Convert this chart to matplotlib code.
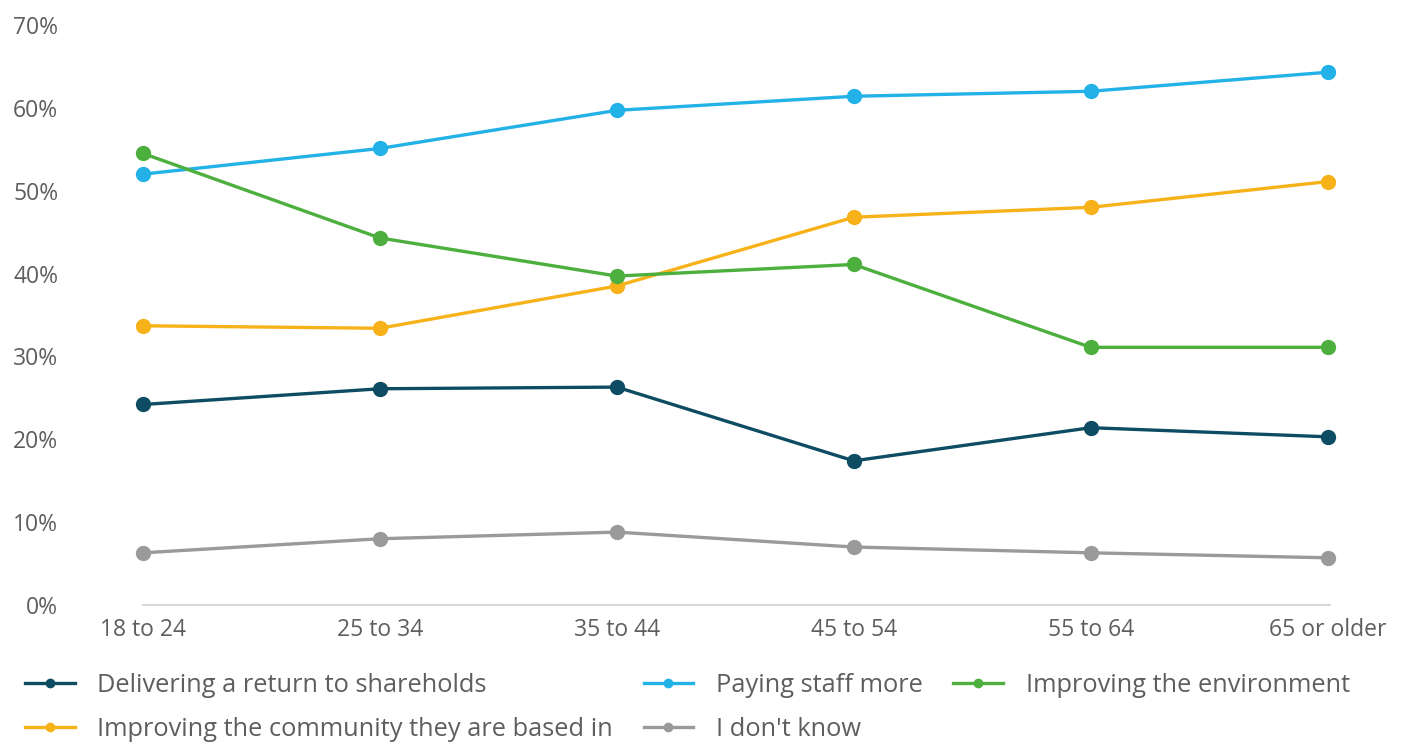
import matplotlib
matplotlib.use('Agg')
import matplotlib.pyplot as plt

plt.rcParams['font.family'] = ['Open Sans', 'DejaVu Sans']

age_groups = ['18 to 24', '25 to 34', '35 to 44', '45 to 54', '55 to 64', '65 or older']

shareholders = [24.2, 26.1, 26.3, 17.4, 21.4, 20.3]
staff_pay = [52.0, 55.1, 59.7, 61.4, 62.0, 64.3]
environment = [54.5, 44.3, 39.7, 41.1, 31.1, 31.1]
community = [33.7, 33.4, 38.5, 46.8, 48.0, 51.1]
dont_know = [6.3, 8.0, 8.8, 7.0, 6.3, 5.7]

series = [
    ('Delivering a return to shareholds', shareholders, '#0d4c63'),
    ('Improving the community they are based in', community, '#f8b219'),
    ('Paying staff more', staff_pay, '#22b2e7'),
    ("I don't know", dont_know, '#9a9a9a'),
    ('Improving the environment', environment, '#4daf3e'),
]

text_color = '#5e5e5e'

fig = plt.figure(figsize=(14.14, 7.44), dpi=100)
ax = fig.add_axes([0.1011, 0.1868, 0.8395, 0.7796])

x = list(range(len(age_groups)))
for label, values, color in series:
    ax.plot(x, values, color=color, lw=2.4, marker='o', markersize=10,
            label=label, clip_on=False)

ax.set_xlim(0, len(age_groups) - 1 + 0.01)
ax.set_ylim(0, 70)
ax.set_yticks(range(0, 71, 10))
ax.set_yticklabels([f'{v}%' for v in range(0, 71, 10)])
ax.set_xticks(x)
ax.set_xticklabels(age_groups)

for side in ['top', 'right', 'left']:
    ax.spines[side].set_visible(False)
ax.spines['bottom'].set_color('#d9d9d9')
ax.spines['bottom'].set_linewidth(1.5)

ax.tick_params(axis='y', length=0, pad=61, labelsize=16.5, labelcolor=text_color)
ax.tick_params(axis='x', length=0, pad=9, labelsize=16.5, labelcolor=text_color)

fig.legend(loc='upper left', bbox_to_anchor=(0.0015, 0.126), ncol=3, frameon=False,
           fontsize=18.3, labelcolor=text_color, handlelength=1.95, markerscale=0.6,
           handletextpad=0.9, columnspacing=1.2, labelspacing=0.75)

fig.savefig('out.png', dpi=100, facecolor='white')
